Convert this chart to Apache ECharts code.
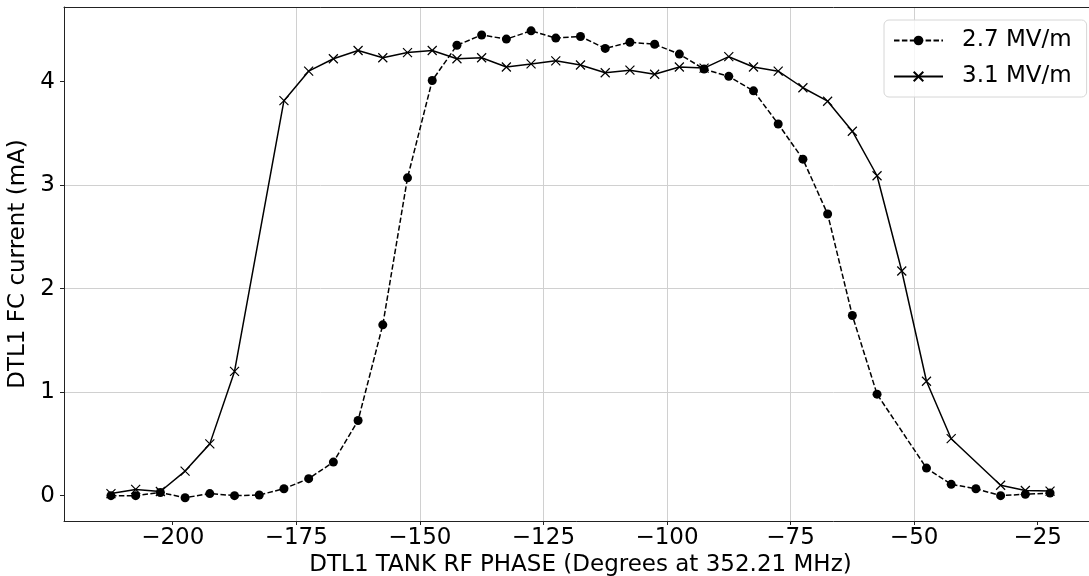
<!DOCTYPE html>
<html>
<head>
<meta charset="utf-8">
<script src="https://cdn.jsdelivr.net/npm/echarts@6/dist/echarts.min.js"></script>
<style>
html,body{margin:0;padding:0;background:#fff;overflow:hidden;}
#chart{width:1089px;height:576px;}
</style>
</head>
<body>
<div id="chart"></div>
<script>
// ---- data ----
const seriesNames = ['2.7 MV/m', '3.1 MV/m'];
const phase27 = [-212.5,-207.5,-202.5,-197.5,-192.5,-187.5,-182.5,-177.5,-172.5,-167.5,-162.5,-157.5,-152.5,-147.5,-142.5,-137.5,-132.5,-127.5,-122.5,-117.5,-112.5,-107.5,-102.5,-97.5,-92.5,-87.5,-82.5,-77.5,-72.5,-67.5,-62.5,-57.5,-47.5,-42.5,-37.5,-32.5,-27.5,-22.5];
const current27 = [0.00,0.00,0.03,-0.02,0.02,0.00,0.006,0.067,0.164,0.324,0.726,1.65,3.07,4.01,4.35,4.45,4.41,4.49,4.42,4.435,4.32,4.38,4.36,4.265,4.12,4.05,3.91,3.59,3.25,2.72,1.74,0.98,0.266,0.109,0.067,0.00,0.013,0.025];
const phase31 = [-212.5,-207.5,-202.5,-197.5,-192.5,-187.5,-177.5,-172.5,-167.5,-162.5,-157.5,-152.5,-147.5,-142.5,-137.5,-132.5,-127.5,-122.5,-117.5,-112.5,-107.5,-102.5,-97.5,-92.5,-87.5,-82.5,-77.5,-72.5,-67.5,-62.5,-57.5,-52.5,-47.5,-42.5,-32.5,-27.5,-22.5];
const current31 = [0.02,0.06,0.04,0.237,0.50,1.20,3.815,4.10,4.22,4.30,4.23,4.28,4.30,4.22,4.23,4.14,4.17,4.20,4.16,4.085,4.11,4.07,4.14,4.13,4.24,4.14,4.10,3.94,3.81,3.52,3.09,2.17,1.105,0.55,0.10,0.05,0.044];
const xTicks = [-200,-175,-150,-125,-100,-75,-50,-25];
const yTicks = [0,1,2,3,4];
const xTitle = 'DTL1 TANK RF PHASE (Degrees at 352.21 MHz)';
const yTitle = 'DTL1 FC current (mA)';

const pairs = (xs, ys) => xs.map((x, i) => [x, ys[i]]);
const FONT = 'DejaVu Sans';
const FS = 23;
const axisCol = '#222';
const X_MIN = -222, X_MAX = -13;

const chart = echarts.init(document.getElementById('chart'), null, {renderer: 'canvas'});
chart.setOption({
  animation: false,
  backgroundColor: '#fff',
  textStyle: {fontFamily: FONT, color: '#000'},
  grid: {left: 64, top: 7, width: 1033, height: 514, show: false,
    containLabel: false, outerBoundsMode: 'none'},
  legend: {
    orient: 'vertical',
    left: 884, top: 20,
    padding: [8, 15, 8, 9],
    itemWidth: 49, itemHeight: 12, itemGap: 11,
    backgroundColor: 'rgba(255,255,255,0.8)',
    borderColor: '#d6d6d6', borderWidth: 1, borderRadius: 5,
    textStyle: {fontFamily: FONT, fontSize: FS, color: '#000', lineHeight: 25, padding: [0, 0, 0, 14]},
    data: seriesNames
  },
  xAxis: [{
    type: 'value', min: X_MIN, max: X_MAX, position: 'bottom',
    name: xTitle, nameLocation: 'middle', nameGap: 33, nameMoveOverlap: false,
    nameTextStyle: {fontFamily: FONT, fontSize: FS, color: '#000'},
    axisLine: {show: true, onZero: false, lineStyle: {color: axisCol, width: 1}},
    axisTick: {show: true, length: 4, lineStyle: {color: axisCol}, customValues: xTicks},
    axisLabel: {fontFamily: FONT, fontSize: FS, color: '#000', margin: 6, customValues: xTicks,
      formatter: v => (v < 0 ? '\u2212' + Math.abs(v) : String(v))},
    splitLine: {show: true, showMinLine: false, showMaxLine: false, lineStyle: {color: '#d0d0d0', width: 1}}
  }, {
    type: 'value', min: X_MIN, max: X_MAX, position: 'top',
    axisLine: {show: true, onZero: false, lineStyle: {color: axisCol, width: 1}},
    axisTick: {show: false}, axisLabel: {show: false}, splitLine: {show: false}
  }],
  yAxis: {
    type: 'value', min: -0.245, max: 4.72,
    name: yTitle, nameLocation: 'middle', nameGap: 33, nameRotate: 90,
    nameTextStyle: {fontFamily: FONT, fontSize: FS, color: '#000'},
    axisLine: {show: true, onZero: false, lineStyle: {color: axisCol, width: 1}},
    axisTick: {show: true, length: 4, lineStyle: {color: axisCol}, customValues: yTicks},
    axisLabel: {fontFamily: FONT, fontSize: FS, color: '#000', margin: 9, customValues: yTicks},
    splitLine: {show: true, showMinLine: false, showMaxLine: false, lineStyle: {color: '#d0d0d0', width: 1}}
  },
  series: [
    {
      name: seriesNames[0], type: 'line', data: pairs(phase27, current27),
      symbol: 'circle', symbolSize: 9, showSymbol: true,
      itemStyle: {color: '#000'},
      lineStyle: {color: '#000', width: 1.5, type: [5.5, 2.4]},
      z: 3
    },
    {
      name: seriesNames[1], type: 'line', data: pairs(phase31, current31),
      symbol: 'path://M0,0L10,10M0,10L10,0', symbolSize: 9, showSymbol: true,
      itemStyle: {color: '#000', borderColor: '#000', borderWidth: 1.2},
      lineStyle: {color: '#000', width: 1.5, type: 'solid'},
      z: 2
    }
  ]
});
</script>
</body>
</html>
